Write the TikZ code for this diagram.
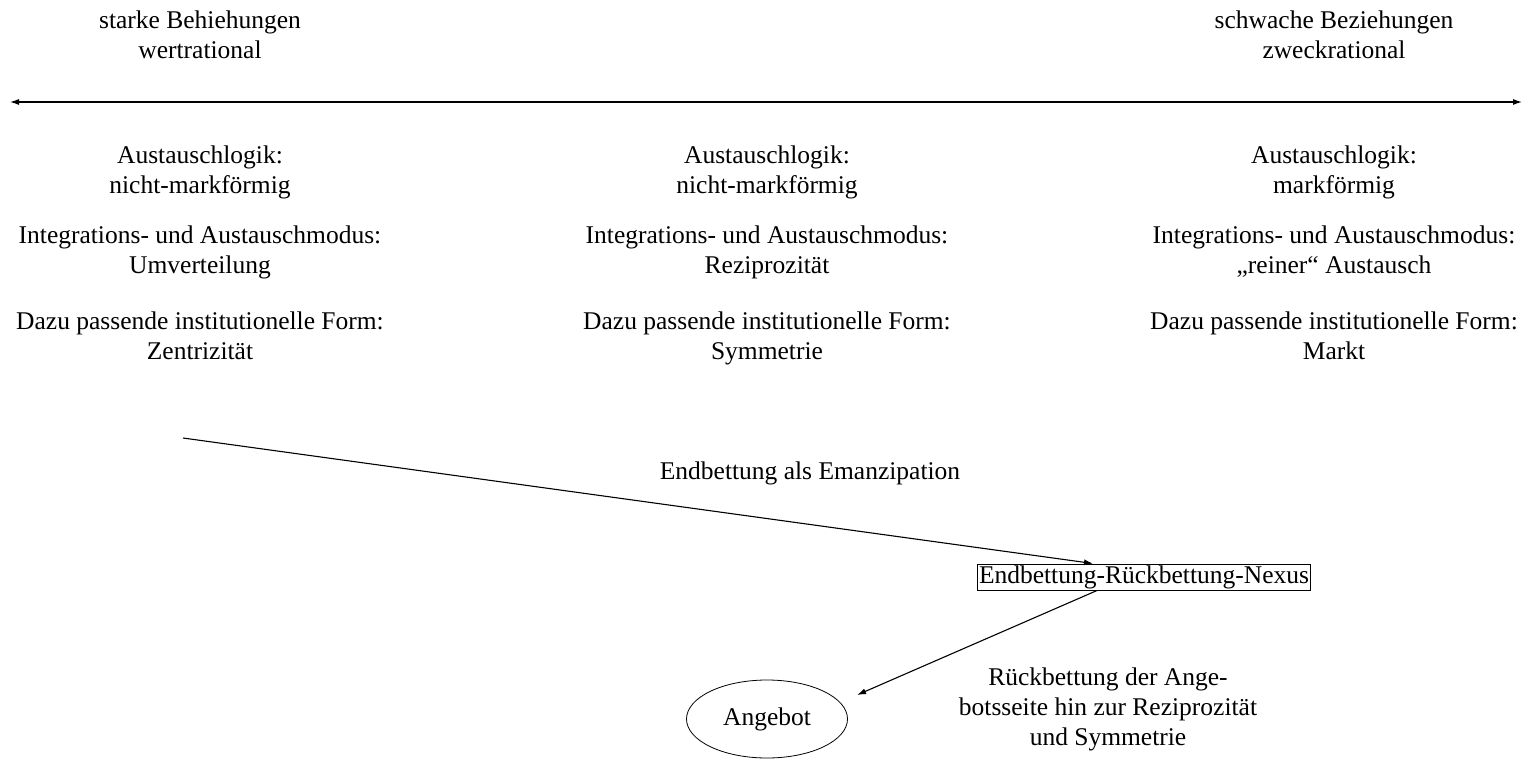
\documentclass[tikz,border=0pt]{standalone}
\usepackage{fontspec}
\setmainfont{Liberation Serif}
\usetikzlibrary{arrows.meta,shapes.geometric}
\tikzset{
  txt/.style={align=center,inner sep=0pt,font=\fontsize{25.5}{30}\selectfont},
  conn/.style={line width=1.1pt,-{Latex[length=9pt,width=6pt]}},
}
\begin{document}
\begin{tikzpicture}[x=1pt,y=-1pt]
\useasboundingbox (0,0) rectangle (1523,760);
\node[txt] (tl) at (200,35) {starke Behiehungen\\wertrational};
\node[txt] (tr) at (1334,35) {schwache Beziehungen\\zweckrational};
\coordinate (al) at (10,102);
\coordinate (ar) at (1522,102);
\draw[line width=1.1pt,{Latex[length=9pt,width=6pt]}-{Latex[length=9pt,width=6pt]}] (al) -- (ar);

\node[txt] (l1) at (200,172) {Austauschlogik:\\nicht-markförmig};
\node[txt] (l2) at (200,252) {Integrations- und Austauschmodus:\\Umverteilung};
\node[txt] (l3) at (200,336) {Dazu passende institutionelle Form:\\Zentrizität};

\node[txt] (m1) at (767,172) {Austauschlogik:\\nicht-markförmig};
\node[txt] (m2) at (767,252) {Integrations- und Austauschmodus:\\Reziprozität};
\node[txt] (m3) at (767,338) {Dazu passende institutionelle Form:\\Symmetrie};

\node[txt] (r1) at (1334,172) {Austauschlogik:\\markförmig};
\node[txt] (r2) at (1334,252) {Integrations- und Austauschmodus:\\„reiner“ Austausch};
\node[txt] (r3) at (1334,336) {Dazu passende institutionelle Form:\\Markt};

\coordinate (s) at (183,438);
\node[txt,draw,line width=0.8pt,inner sep=1.5pt] (nx) at (1144,577) {Endbettung-Rückbettung-Nexus};
\node[txt] (em) at (810,473) {Endbettung als Emanzipation};
\node[txt,draw,ellipse,line width=0.8pt,minimum width=161pt,minimum height=78pt,inner sep=0pt] (an) at (767,719) {Angebot};
\node[txt] (rb) at (1108,709) {Rückbettung der Ange-\\botsseite hin zur Reziprozität\\und Symmetrie};
\coordinate (ae) at (857,695);

\draw[conn] (s) -- ([xshift=-51pt]nx.north);
\draw[conn] ([xshift=-47pt]nx.south) -- (ae);
\end{tikzpicture}
\end{document}
